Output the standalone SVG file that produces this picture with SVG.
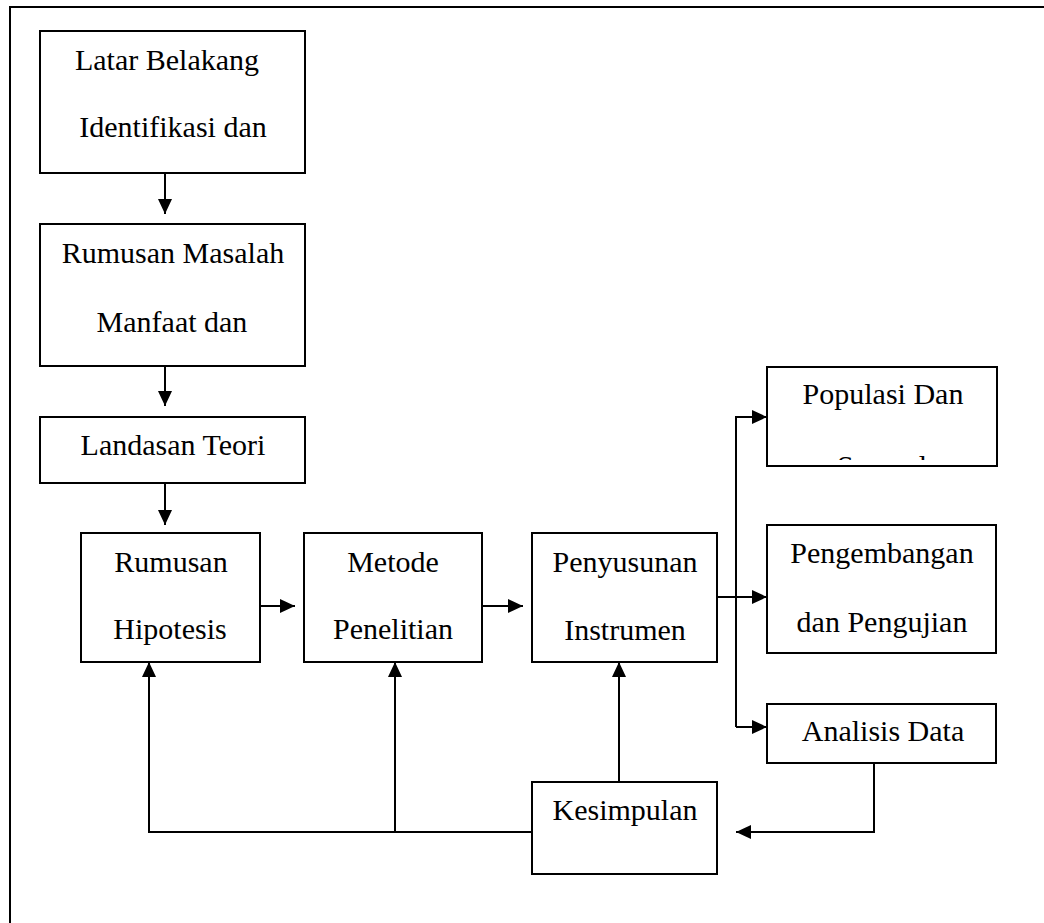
<svg xmlns="http://www.w3.org/2000/svg" width="1044" height="923" viewBox="0 0 1044 923">
<style>
.box{fill:#fff;stroke:#000;stroke-width:2}
.ln{fill:none;stroke:#000;stroke-width:2}
text{font-family:"Liberation Serif","Times New Roman",serif;font-size:30px;fill:#000;text-anchor:middle}
</style>
<defs>
<marker id="ah" viewBox="0 0 15 14" refX="15" refY="7" markerWidth="15" markerHeight="14" markerUnits="userSpaceOnUse" orient="auto">
<path d="M0,0 L15,7 L0,14 Z" fill="#000"/>
</marker>
<clipPath id="clipPop"><rect x="767" y="367" width="230" height="93"/></clipPath>
</defs>
<rect width="1044" height="923" fill="#fff"/>
<path class="ln" d="M10,923 V7 H1044"/>

<g id="connectors">
<line class="ln" x1="165" y1="173" x2="165" y2="214" marker-end="url(#ah)"/>
<line class="ln" x1="165" y1="366" x2="165" y2="406" marker-end="url(#ah)"/>
<line class="ln" x1="165" y1="483" x2="165" y2="525" marker-end="url(#ah)"/>
<line class="ln" x1="260" y1="606" x2="295" y2="606" marker-end="url(#ah)"/>
<line class="ln" x1="482" y1="606" x2="523" y2="606" marker-end="url(#ah)"/>
<line class="ln" x1="717" y1="597" x2="767" y2="597" marker-end="url(#ah)"/>
<polyline class="ln" points="736,727 736,417 767,417" marker-end="url(#ah)"/>
<line class="ln" x1="736" y1="727" x2="767" y2="727" marker-end="url(#ah)"/>
<polyline class="ln" points="874,763 874,832 736,832" marker-end="url(#ah)"/>
<line class="ln" x1="619" y1="782" x2="619" y2="662" marker-end="url(#ah)"/>
<polyline class="ln" points="533,832 149,832 149,662" marker-end="url(#ah)"/>
<line class="ln" x1="395" y1="832" x2="395" y2="662" marker-end="url(#ah)"/>
</g>

<g id="latar">
<rect class="box" x="40" y="31" width="265" height="142"/>
<text x="167" y="70">Latar Belakang</text>
<text x="173" y="137">Identifikasi dan</text>
</g>
<g id="rumusan-masalah">
<rect class="box" x="40" y="224" width="265" height="142"/>
<text x="173" y="263">Rumusan Masalah</text>
<text x="172" y="332">Manfaat dan</text>
</g>
<g id="landasan">
<rect class="box" x="40" y="417" width="265" height="66"/>
<text x="173" y="455">Landasan Teori</text>
</g>
<g id="hipotesis">
<rect class="box" x="81" y="533" width="179" height="129"/>
<text x="171" y="572">Rumusan</text>
<text x="170" y="639">Hipotesis</text>
</g>
<g id="metode">
<rect class="box" x="304" y="533" width="178" height="129"/>
<text x="393" y="572">Metode</text>
<text x="393" y="639">Penelitian</text>
</g>
<g id="penyusunan">
<rect class="box" x="532" y="533" width="185" height="129"/>
<text x="625" y="572">Penyusunan</text>
<text x="625" y="640">Instrumen</text>
</g>
<g id="populasi">
<rect class="box" x="767" y="367" width="230" height="99"/>
<text x="883" y="404">Populasi Dan</text>
<text x="882" y="476" clip-path="url(#clipPop)">Sampel</text>
</g>
<g id="pengembangan">
<rect class="box" x="767" y="525" width="229" height="128"/>
<text x="882" y="563">Pengembangan</text>
<text x="882" y="632">dan Pengujian</text>
</g>
<g id="analisis">
<rect class="box" x="767" y="704" width="229" height="59"/>
<text x="883" y="741">Analisis Data</text>
</g>
<g id="kesimpulan">
<rect class="box" x="532" y="782" width="185" height="92"/>
<text x="625" y="820">Kesimpulan</text>
</g>
</svg>
